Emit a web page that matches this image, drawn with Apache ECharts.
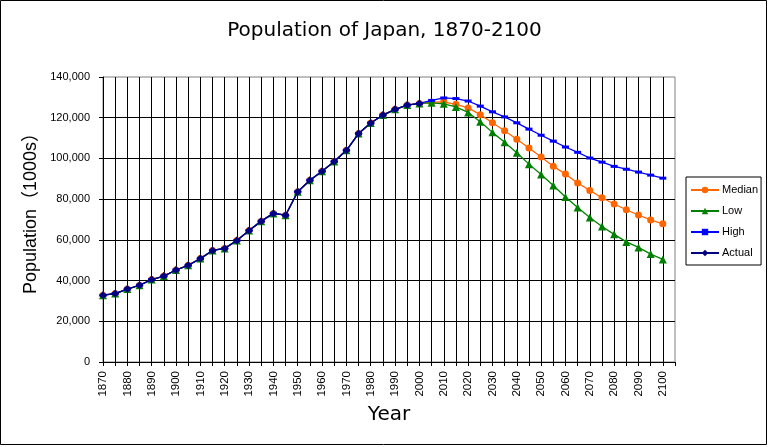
<!DOCTYPE html>
<html><head><meta charset="utf-8">
<script src="https://cdn.jsdelivr.net/npm/echarts@6/dist/echarts.min.js"></script>
<style>html,body{margin:0;padding:0;background:#fff}#c{width:769px;height:447px}</style>
</head><body><div id="c"></div>
<script>
// Category axis: every 5 years (the last slot, 2105, is empty as in the original)
const years = ['1870','1875','1880','1885','1890','1895','1900','1905','1910','1915',
  '1920','1925','1930','1935','1940','1945','1950','1955','1960','1965',
  '1970','1975','1980','1985','1990','1995','2000','2005','2010','2015',
  '2020','2025','2030','2035','2040','2045','2050','2055','2060','2065',
  '2070','2075','2080','2085','2090','2095','2100','2105'];

// Actual population (1000s), 1870-2000
const actual = [32800,33600,35800,37700,40500,42200,45200,47500,50800,54800,
  55800,59700,64600,69200,73000,72100,83600,89300,93700,98500,
  104000,112200,117400,121300,124100,126200,127000];

// Projections 2005-2100 (1000s)
const medianProj = [127600,127800,126600,124800,121500,117500,113600,109400,105100,100700,
  96200,92300,87900,84300,80700,77600,74800,72200,69800,67900];
const lowProj = [127300,126800,125300,122600,118000,112800,108000,102800,97200,92100,
  86700,81100,75900,71000,66600,62700,59000,56300,53000,50400];
const highProj = [128500,129700,129400,128200,125700,122900,120400,117500,114400,111400,
  108500,105600,103000,100200,98200,96100,94700,93300,91800,90300];

const seriesNames = ['Median','Low','High','Actual'];
const seriesColors = ['#FF6600','#008000','#0000FF','#000080'];

function pad(arr){ const out = arr.slice(); while(out.length < years.length) out.push(null); return out; }

const chart = echarts.init(document.getElementById('c'), null, {renderer:'canvas'});
const lab = {color:'#000', fontFamily:'"Liberation Sans", Arial, sans-serif'};

function mk(name, data, color, symbol, size, z){
  return {name, type:'line', data:pad(data), symbol, symbolSize:size, showSymbol:true,
    showAllSymbol:true, connectNulls:false, z,
    lineStyle:{color, width:1.3}, itemStyle:{color, borderWidth:0}, emphasis:{disabled:true}};
}

chart.setOption({
  animation:false,
  backgroundColor:'#fff',
  title:{text:'Population of Japan, 1870-2100', left:'center', top:21, padding:0,
    textStyle:{fontFamily:'"DejaVu Sans", sans-serif', fontSize:20, fontWeight:'normal', color:'#000'}},
  grid:{left:103, right:94, top:77, bottom:85, show:true, borderColor:'#808080', borderWidth:1, backgroundColor:'#fff'},
  legend:{orient:'vertical', left:686, top:177, data:seriesNames, padding:[7,3,6,4], itemGap:9,
    itemWidth:28, itemHeight:8, borderColor:'#000', borderWidth:1, backgroundColor:'#fff',
    textStyle:Object.assign({fontSize:11, padding:[0,0,0,-2], lineHeight:12}, lab)},
  xAxis:{type:'category', data:years, boundaryGap:false,
    name:'Year', nameLocation:'middle', nameGap:40,
    nameTextStyle:{fontFamily:'"DejaVu Sans", sans-serif', fontSize:20, color:'#000'},
    axisLine:{lineStyle:{color:'#000', width:1}},
    axisTick:{show:true, interval:0, length:4, lineStyle:{color:'#000'}},
    axisLabel:Object.assign({interval:1, rotate:90, margin:9, fontSize:11.5}, lab),
    splitLine:{show:true, interval:0, showMaxLine:false, lineStyle:{color:'#000', width:1}}},
  yAxis:{type:'value', min:0, max:140000, interval:20000,
    axisLine:{show:true, lineStyle:{color:'#000', width:1}},
    axisTick:{show:true, length:4, lineStyle:{color:'#000'}},
    axisLabel:Object.assign({margin:13, fontSize:11,
      formatter:v => v.toLocaleString('en-US')}, lab),
    splitLine:{show:true, showMaxLine:false, lineStyle:{color:'#000', width:1}}},
  graphic:[
    {type:'rect', shape:{x:0.5, y:0.5, width:766, height:444}, style:{fill:'none', stroke:'#000', lineWidth:1}, z:-1},
    {type:'text', x:31, y:209, rotation:Math.PI/2,
      style:{text:'Population（1000s）', font:'18px "Liberation Sans", "Noto Sans CJK JP", sans-serif',
        align:'center', verticalAlign:'middle', fill:'#000'}}
  ],
  series:[
    mk('Median', actual.concat(medianProj), seriesColors[0], 'circle', 7, 2),
    mk('Low', actual.concat(lowProj), seriesColors[1], 'triangle', 8, 3),
    mk('High', actual.concat(highProj), seriesColors[2], 'rect', [7,3], 4),
    mk('Actual', actual, seriesColors[3], 'diamond', 8, 5)
  ]
});
</script></body></html>
